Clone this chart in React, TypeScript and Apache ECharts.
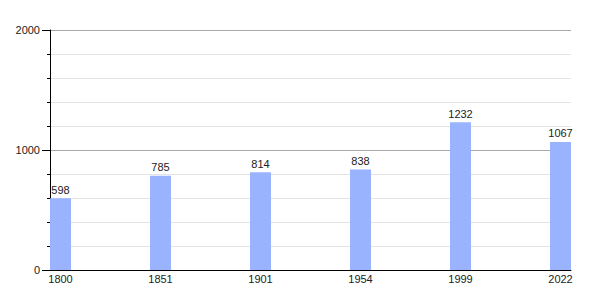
import React, { useEffect, useRef } from "react";
import * as echarts from "echarts";

const years = ["1800", "1851", "1901", "1954", "1999", "2022"];
const population = [598, 785, 814, 838, 1232, 1067];
const yMin = 0;
const yMax = 2000;
const yInterval = 1000;

export default function App() {
  const ref = useRef<HTMLDivElement>(null);
  useEffect(() => {
    if (!ref.current) return;
    const chart = echarts.init(ref.current, undefined, { renderer: "svg" });
    const font = "Liberation Sans, Arial, sans-serif";
    chart.setOption({
      animation: false,
      backgroundColor: "#ffffff",
      grid: [
        { left: 50, right: 29, top: 30, bottom: 30 },
        { left: 60.5, right: 39.5, top: 30, bottom: 30 },
      ],
      xAxis: [
        {
          type: "value",
          gridIndex: 0,
          min: 0,
          max: 1,
          axisLine: { show: true, lineStyle: { color: "#000", width: 1 } },
          axisTick: { show: false },
          axisLabel: { show: false },
          splitLine: { show: false },
        },
        {
          type: "category",
          gridIndex: 1,
          data: years,
          boundaryGap: false,
          axisLine: { show: false },
          axisTick: { show: false },
          axisLabel: {
            show: true,
            color: "#222",
            fontSize: 11,
            fontFamily: font,
            margin: 3,
            interval: 0,
          },
          splitLine: { show: false },
        },
      ],
      yAxis: [
        {
          type: "value",
          gridIndex: 0,
          min: yMin,
          max: yMax,
          interval: yInterval,
          axisLine: { show: true, lineStyle: { color: "#000", width: 1 } },
          axisTick: { show: true, length: 8, lineStyle: { color: "#000" } },
          minorTick: { show: true, splitNumber: 5, length: 3, lineStyle: { color: "#000" } },
          axisLabel: {
            color: "#222",
            fontSize: 11,
            fontFamily: font,
            margin: 10,
            formatter: (v: number) => String(v),
          },
          splitLine: { show: true, lineStyle: { color: "#a8a8a8", width: 1 } },
          minorSplitLine: { show: true, lineStyle: { color: "#e4e4e4", width: 1 } },
        },
        {
          type: "value",
          gridIndex: 1,
          min: yMin,
          max: yMax,
          show: false,
        },
      ],
      series: [
        {
          type: "bar",
          xAxisIndex: 1,
          yAxisIndex: 1,
          data: population,
          barWidth: 21,
          clip: false,
          itemStyle: { color: "#99b3ff" },
          label: {
            show: true,
            position: "top",
            distance: 3,
            color: "#222",
            fontSize: 11,
            fontFamily: font,
          },
        },
      ],
    });
    return () => chart.dispose();
  }, []);
  return <div ref={ref} style={{ width: 600, height: 300, margin: -8 }} />;
}
